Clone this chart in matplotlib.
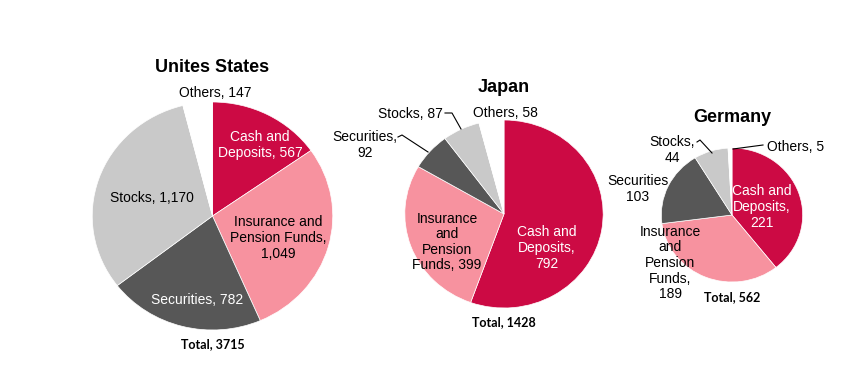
import matplotlib
matplotlib.use('Agg')
import matplotlib.pyplot as plt

# canvas in pixels
W, H = 850, 366
# the original picture is stretched sideways a little
S = 1.055

# data: household financial assets by category
categories = ['Cash and Deposits', 'Insurance and Pension Funds', 'Securities', 'Stocks', 'Others']
colors = ['#cc0a44', '#f7929f', '#575757', '#c9c9c9', '#ffffff']

countries = ['Unites States', 'Japan', 'Germany']
us_values = [567, 1049, 782, 1170, 147]
jp_values = [792, 399, 92, 87, 58]
de_values = [221, 189, 103, 44, 5]

# label templates (line breaks as in the original)
us_labels = ['Cash and\nDeposits, {}', 'Insurance and\nPension Funds,\n{}', 'Securities, {}', 'Stocks, {}', 'Others, {}']
jp_labels = ['Cash and\nDeposits,\n{}', 'Insurance\nand\nPension\nFunds, {}', 'Securities,\n{}', 'Stocks, {}', 'Others, {}']
de_labels = ['Cash and\nDeposits,\n{}', 'Insurance\nand\nPension\nFunds,\n{}', 'Securities\n{}', 'Stocks,\n{}', 'Others, {}']

# layout (pixel coords, y from top)
pies = [
    dict(center=(212.5, 216), r=114, title_y=67, total_y=344,
         label_pos=[(260, 145), (278, 238), (197, 300), (152, 198), (215, 93)],
         label_col=['white', 'black', 'white', 'black', 'black'],
         leaders=[]),
    dict(center=(504, 214), r=94, title_y=87, total_y=322,
         label_pos=[(547, 248), (447, 242), (365, 145), (410, 114), (505, 113)],
         label_col=['white', 'black', 'black', 'black', 'black'],
         leaders=[[(398, 137), (402, 135), (428, 152)],
                  [(445, 113), (452, 113), (461, 129)]]),
    dict(center=(732, 215), r=67, title_y=118, total_y=297,
         label_pos=[(762, 207), (670, 263), (638, 189), (672, 150), (796, 147)],
         label_col=['white', 'black', 'black', 'black', 'black'],
         leaders=[[(697, 142), (700, 140), (712, 153)],
                  [(763, 145), (733, 149)]]),
]
all_values = [us_values, jp_values, de_values]
all_labels = [us_labels, jp_labels, de_labels]

plt.rcParams['font.family'] = ['Liberation Sans', 'DejaVu Sans']

fig = plt.figure(figsize=(W / 100, H / 100), dpi=100)
ax = fig.add_axes([0, 0, 1, 1])


def fx(x):
    return x / S


def fy(y):
    return H - y


for name, vals, labs, lay in zip(countries, all_values, all_labels, pies):
    cx, cy = lay['center']
    ax.pie(vals, colors=colors, startangle=90, counterclock=False,
           center=(fx(cx), fy(cy)), radius=lay['r'], frame=True,
           wedgeprops=dict(edgecolor='white', linewidth=0.5))
    ax.text(fx(cx), fy(lay['title_y']), name, ha='center', va='center',
            fontsize=13, fontweight='bold')
    ax.text(fx(cx), fy(lay['total_y']), 'Total, {}'.format(sum(vals)), ha='center', va='center',
            fontsize=9, fontweight='bold', family=['Lato', 'DejaVu Sans'])
    for tmpl, v, (lx, ly), c in zip(labs, vals, lay['label_pos'], lay['label_col']):
        ax.text(fx(lx), fy(ly), tmpl.format('{:,}'.format(v)), ha='center', va='center',
                fontsize=10, color=c, linespacing=1.15)
    for pts in lay['leaders']:
        ax.plot([fx(p[0]) for p in pts], [fy(p[1]) for p in pts], color='black', lw=0.8)

ax.set_xlim(0, fx(W))
ax.set_ylim(0, H)
ax.set_aspect('auto')
ax.axis('off')

fig.savefig('out.png', dpi=100)
